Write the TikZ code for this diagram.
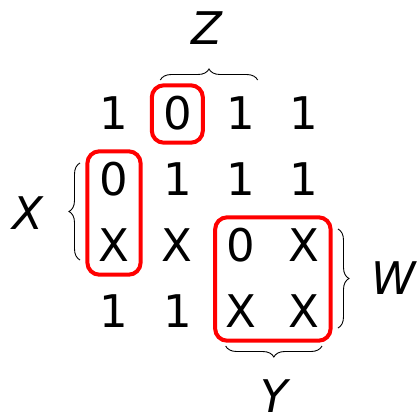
\documentclass[tikz,border=0pt]{standalone}
\usepackage{fontspec}
\setmainfont{DejaVu Sans}
\usetikzlibrary{positioning,fit,calc,decorations.pathreplacing}

\begin{document}
\begin{tikzpicture}[
  x=1pt,y=-1pt,
  cell/.style={inner sep=0pt,text height=33pt,text depth=2pt,font=\fontsize{45}{45}\selectfont},
  lbl/.style={inner sep=0pt,font=\fontsize{45}{45}\selectfont\itshape},
  group/.style={draw=red,line width=4pt,rounded corners=12pt,inner xsep=11pt,inner ysep=11pt},
  brc/.style={decorate,decoration={brace,amplitude=11pt},line width=0.9pt}
]
\useasboundingbox (0,0) rectangle (417,413);

% map entries
\foreach \vals [count=\r] in {{1,0,1,1},{0,1,1,1},{X,X,0,X},{1,1,X,X}}
  \foreach \v [count=\c] in \vals
    \node[cell] (c\r\c) at ({114+63.33*(\c-1)},{114+66*(\r-1)}) {\v};

% groups
\node[group,fit=(c12)] (g1) {};
\node[group,fit=(c21)(c31)] (g2) {};
\node[group,fit=(c33)(c44)] (g3) {};

% braces
\coordinate (za) at ($(c12)+(-17,-34)$);
\coordinate (zb) at ($(c13)+(17,-34)$);
\draw[brc] (za) -- (zb);
\node[lbl] (zl) at ($(za)!0.5!(zb)+(-2,-52)$) {Z};

\coordinate (xa) at ($(c31)+(-34,14)$);
\coordinate (xb) at ($(c21)+(-34,-17)$);
\draw[brc] (xa) -- (xb);
\node[lbl] (xl) at ($(xa)!0.5!(xb)+(-52,2)$) {X};

\coordinate (wa) at ($(c34)+(34,-17)$);
\coordinate (wb) at ($(c44)+(34,16)$);
\draw[brc] (wa) -- (wb);
\node[lbl] (wl) at ($(wa)!0.5!(wb)+(56,0)$) {W};

\coordinate (ya) at ($(c44)+(18,34)$);
\coordinate (yb) at ($(c43)+(-15,34)$);
\draw[brc] (ya) -- (yb);
\node[lbl] (yl) at ($(ya)!0.5!(yb)+(0,50)$) {Y};
\end{tikzpicture}
\end{document}
